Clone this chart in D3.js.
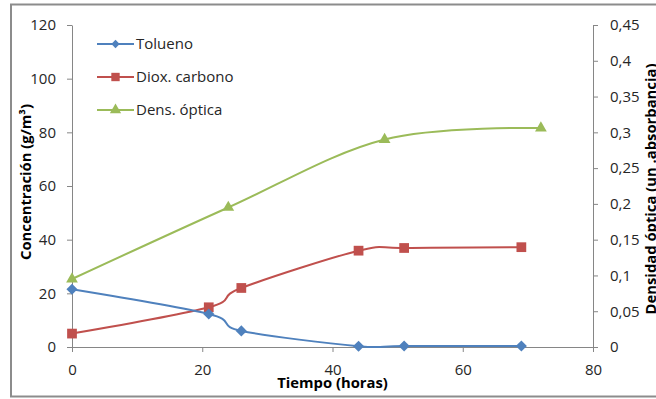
<!DOCTYPE html>
<html>
<head>
<meta charset="utf-8">
<script src="https://cdn.jsdelivr.net/npm/d3@7"></script>
<style>
  html, body { margin: 0; padding: 0; background: #fff; }
  svg { display: block; font-family: "Open Sans", Lato, sans-serif; }
</style>
</head>
<body>
<svg id="chart" width="656" height="399"></svg>
<script>
// Sampling times (hours) and measured values for each series
const tolTime = [0, 21, 26, 44, 51, 69];
const tolVals = [21.5, 12.3, 6.0, 0.3, 0.4, 0.4];          // g/m3
const co2Time = [0, 21, 26, 44, 51, 69];
const co2Vals = [5.0, 14.8, 22.0, 35.9, 36.9, 37.2];        // g/m3
const odTime  = [0, 24, 48, 72];
const odVals  = [0.095, 0.195, 0.29, 0.306];                // absorbance

const seriesNames = ["Tolueno", "Diox. carbono", "Dens. óptica"];
const seriesColors = ["#4F81BD", "#C0504D", "#9BBB59"];

const xTicks = [0, 20, 40, 60, 80];
const leftTicks = [0, 20, 40, 60, 80, 100, 120];
const rightTicks = [0, 0.05, 0.1, 0.15, 0.2, 0.25, 0.3, 0.35, 0.4, 0.45];
const rightTickLabels = ["0", "0,05", "0,1", "0,15", "0,2", "0,25", "0,3", "0,35", "0,4", "0,45"];

const svg = d3.select("#chart");
const plot = { left: 72, right: 593, top: 25, bottom: 347 };

const x = d3.scaleLinear().domain([0, 80]).range([plot.left, plot.right]);
const yL = d3.scaleLinear().domain([0, 120]).range([plot.bottom, plot.top]);
const yR = d3.scaleLinear().domain([0, 0.45]).range([plot.bottom, plot.top]);

const axisColor = "#868686";
const textColor = "#262626";
const fontFamily = "'Open Sans', Lato, sans-serif";

// outer chart frame
svg.append("rect")
  .attr("x", 11).attr("y", 4.5)
  .attr("width", 700).attr("height", 392)
  .attr("fill", "none").attr("stroke", "#8c8c8c").attr("stroke-width", 2);

function styleAxis(g) {
  g.selectAll(".domain").attr("stroke", axisColor);
  g.selectAll(".tick line").attr("stroke", axisColor);
  g.selectAll(".tick text").attr("fill", textColor).style("font-size", "15px")
    .style("font-family", fontFamily);
}

svg.append("g")
  .attr("transform", `translate(0,${plot.bottom})`)
  .call(d3.axisBottom(x).tickValues(xTicks).tickSize(5).tickSizeOuter(0).tickPadding(12))
  .call(styleAxis);

svg.append("g")
  .attr("transform", `translate(${plot.left},0)`)
  .call(d3.axisLeft(yL).tickValues(leftTicks).tickSize(5).tickSizeOuter(0).tickPadding(11))
  .call(styleAxis);

svg.append("g")
  .attr("transform", `translate(${plot.right},0)`)
  .call(d3.axisRight(yR).tickValues(rightTicks).tickSize(5).tickSizeOuter(0).tickPadding(12)
    .tickFormat((d, i) => rightTickLabels[i]))
  .call(styleAxis);

// axis titles
function title(sel) {
  sel.attr("text-anchor", "middle").attr("fill", "#000")
    .style("font-size", "14.8px").style("font-weight", "bold")
    .style("font-family", fontFamily);
}

svg.append("text")
  .attr("x", (plot.left + plot.right) / 2).attr("y", 388)
  .call(title).text("Tiempo (horas)");

svg.append("text")
  .attr("transform", "translate(31,182) rotate(-90)")
  .call(title).text("Concentración (g/m³)");

svg.append("text")
  .attr("transform", "translate(656,189) rotate(-90)")
  .call(title).text("Densidad óptica (un .absorbancia)");

const curve = d3.curveCardinal.tension(0);

function drawSeries(times, vals, yScale, color, symbolType, size) {
  const pts = times.map((t, i) => [t, vals[i]]);
  const line = d3.line().x(d => x(d[0])).y(d => yScale(d[1])).curve(curve);
  svg.append("path").datum(pts)
    .attr("d", line).attr("fill", "none")
    .attr("stroke", color).attr("stroke-width", 2);
  svg.append("g").selectAll("path").data(pts).join("path")
    .attr("transform", d => `translate(${x(d[0])},${yScale(d[1])})`)
    .attr("d", d3.symbol().type(symbolType).size(size))
    .attr("fill", color);
}

const diamond = {
  draw(ctx, size) {
    const r = Math.sqrt(size) * 0.62;
    ctx.moveTo(0, -r); ctx.lineTo(r, 0); ctx.lineTo(0, r); ctx.lineTo(-r, 0); ctx.closePath();
  }
};

drawSeries(odTime, odVals, yR, seriesColors[2], d3.symbolTriangle, 60);
drawSeries(co2Time, co2Vals, yL, seriesColors[1], d3.symbolSquare, 95);
drawSeries(tolTime, tolVals, yL, seriesColors[0], diamond, 80);

// legend
const legendRows = [44, 77, 110];
const legendSymbols = [diamond, d3.symbolSquare, d3.symbolTriangle];
const legendSizes = [45, 70, 55];
const lg = svg.append("g");
seriesNames.forEach((name, i) => {
  const yy = legendRows[i];
  lg.append("line").attr("x1", 97).attr("x2", 134).attr("y1", yy).attr("y2", yy)
    .attr("stroke", seriesColors[i]).attr("stroke-width", 2);
  lg.append("path").attr("transform", `translate(115.5,${yy})`)
    .attr("d", d3.symbol().type(legendSymbols[i]).size(legendSizes[i]))
    .attr("fill", seriesColors[i]);
  lg.append("text").attr("x", 136).attr("y", yy).attr("dy", "0.36em")
    .attr("fill", textColor).style("font-size", "15px")
    .style("font-family", fontFamily).text(name);
});
</script>
</body>
</html>
